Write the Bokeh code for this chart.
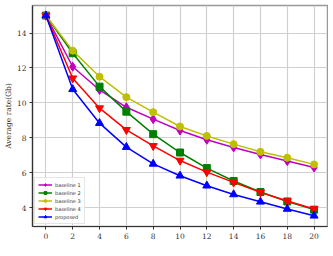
from bokeh.plotting import figure
from bokeh.embed import file_html
from bokeh.resources import INLINE
from bokeh.models import FixedTicker, Label

M = [0, 2, 4, 6, 8, 10, 12, 14, 16, 18, 20]
baseline1 = [15.0, 12.07, 10.74, 9.75, 9.07, 8.42, 7.89, 7.45, 7.05, 6.67, 6.30]
baseline2 = [15.0, 12.84, 10.93, 9.50, 8.21, 7.16, 6.27, 5.53, 4.90, 4.36, 3.89]
baseline3 = [15.0, 12.99, 11.50, 10.33, 9.47, 8.65, 8.11, 7.64, 7.20, 6.86, 6.48]
baseline4 = [15.0, 11.41, 9.70, 8.46, 7.54, 6.70, 6.04, 5.45, 4.88, 4.38, 3.93]
proposed = [15.0, 10.78, 8.84, 7.47, 6.51, 5.83, 5.26, 4.76, 4.34, 3.93, 3.54]

x_ticks = [0, 2, 4, 6, 8, 10, 12, 14, 16, 18, 20]
y_ticks = [4, 6, 8, 10, 12, 14]

series = [
    ("baseline 1", baseline1, "#bf00bf", "diamond", 9),
    ("baseline 2", baseline2, "#008000", "square", 7),
    ("baseline 3", baseline3, "#bfbf00", "circle", 7),
    ("baseline 4", baseline4, "#ff0000", "inverted_triangle", 8),
    ("proposed", proposed, "#0000ff", "triangle", 8),
]

p = figure(width=328, height=251, x_range=(-1, 21), y_range=(2.925, 15.575),
           output_backend="svg", toolbar_location=None,
           min_border_left=32, min_border_right=1, min_border_top=5, min_border_bottom=25)

for name, ys, col, mk, sz in series:
    p.line(M, ys, line_color=col, line_width=1.5, legend_label=name)
    p.scatter(M, ys, marker=mk, size=sz, fill_color=col, line_color=col, legend_label=name)

p.xaxis.ticker = FixedTicker(ticks=x_ticks)
p.yaxis.ticker = FixedTicker(ticks=y_ticks)
p.yaxis.axis_label = "Average rate(Gb)"

for ax in (p.xaxis, p.yaxis):
    ax.axis_label_text_font = "DejaVu Serif"
    ax.axis_label_text_font_size = "7.5px"
    ax.axis_label_text_font_style = "normal"
    ax.axis_label_text_color = "#333333"
    ax.major_label_text_font = "DejaVu Serif"
    ax.major_label_text_font_size = "7.5px"
    ax.major_label_text_color = "#333333"
    ax.axis_line_color = "#333333"
    ax.axis_line_width = 1.2
    ax.major_tick_line_color = "#333333"
    ax.major_tick_out = 3
    ax.major_tick_in = 0
    ax.minor_tick_line_color = None
    ax.major_label_standoff = 3
    ax.axis_label_standoff = 1

p.yaxis.major_label_standoff = 3

xlabel = Label(x=10, y=-15, x_units="data", y_units="screen", text="M",
               text_font="DejaVu Serif", text_font_size="7.5px", text_color="#333333",
               text_align="center", text_baseline="top")
p.add_layout(xlabel)

p.grid.grid_line_color = "#d0d0d0"
p.grid.grid_line_width = 1.2
p.outline_line_color = "#999999"
p.outline_line_width = 1.5

p.legend.location = "bottom_left"
p.legend.label_text_font = "DejaVu Sans"
p.legend.label_text_font_size = "5px"
p.legend.label_text_color = "#333333"
p.legend.glyph_width = 14
p.legend.glyph_height = 7
p.legend.label_height = 7
p.legend.spacing = 1
p.legend.padding = 3
p.legend.margin = 2
p.legend.label_standoff = 3
p.legend.border_line_color = "#cccccc"
p.legend.background_fill_alpha = 0.8

open("out.html", "w").write(file_html(p, INLINE))
